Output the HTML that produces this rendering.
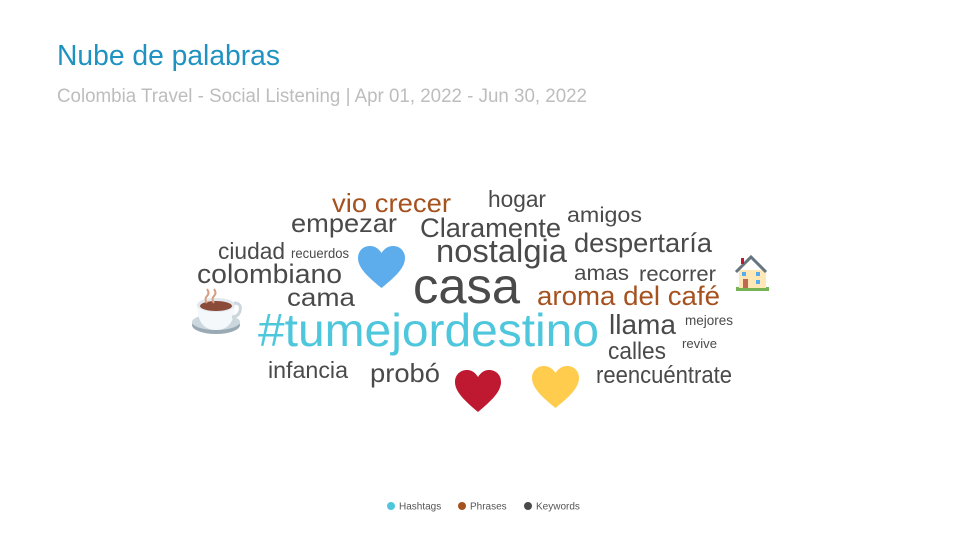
<!DOCTYPE html>
<html><head><meta charset="utf-8"><style>
html,body{margin:0;padding:0;background:#fff;}
body{width:960px;height:540px;overflow:hidden;font-family:"Liberation Sans",sans-serif;}
</style></head><body>
<svg width="960" height="540" viewBox="0 0 960 540">
<text x="57" y="65" font-size="29" fill="#1f92c2" textLength="223" lengthAdjust="spacingAndGlyphs">Nube de palabras</text>
<text x="57" y="102" font-size="19" fill="#bdbdbd" textLength="530" lengthAdjust="spacingAndGlyphs">Colombia Travel - Social Listening | Apr 01, 2022 - Jun 30, 2022</text>
<g id="cloud"></g>
<g transform="translate(358,246)"><path d="M23.5 42 C10 31 0 22 0 12 C0 5 5 0 12 0 C17 0 21 3 23.5 7 C26 3 30 0 35 0 C42 0 47 5 47 12 C47 22 37 31 23.5 42Z" fill="#5dadec"/></g>
<g transform="translate(455,370)"><path d="M23 42 C10 31 0 22 0 12 C0 5 5 0 12 0 C17 0 20.5 3 23 7 C25.5 3 29 0 34 0 C41 0 46 5 46 12 C46 22 36 31 23 42Z" fill="#be1931"/></g>
<g transform="translate(532,366)"><path d="M23.5 42 C10 31 0 22 0 12 C0 5 5 0 12 0 C17 0 21 3 23.5 7 C26 3 30 0 35 0 C42 0 47 5 47 12 C47 22 37 31 23.5 42Z" fill="#ffcc4d"/></g>
<g>
<ellipse cx="216" cy="325" rx="24" ry="9" fill="#99aab5"/>
<ellipse cx="216" cy="322" rx="24" ry="8" fill="#ccd6dd"/>
<path d="M197 304 Q197 330 216 330 Q235 330 235 304Z" fill="#f5f8fa"/>
<ellipse cx="216" cy="305" rx="19" ry="7" fill="#e1e8ed"/>
<ellipse cx="216" cy="306" rx="16" ry="5" fill="#8a4b38"/>
<path d="M234 303 q8 0 6 8 q-2 6 -8 6" fill="none" stroke="#ccd6dd" stroke-width="3"/>
<path d="M207 303 q-3 -4 0 -7 q3 -3 0 -7 M214 303 q-3 -4 0 -7 q3 -3 0 -7" fill="none" stroke="#d99e82" stroke-width="2"/>
</g>
<g>
<rect x="736" y="287" width="33" height="4" fill="#77b255"/>
<rect x="739" y="270" width="27" height="18" fill="#ffe8b6"/>
<path d="M736 272 L751 257 L766 272" fill="none" stroke="#66757f" stroke-width="3"/>
<rect x="741" y="258" width="3" height="6" fill="#be1931"/>
<rect x="743" y="279" width="5" height="9" fill="#c1694f"/>
<rect x="742" y="272" width="4" height="4" fill="#55acee"/>
<rect x="756" y="272" width="4" height="4" fill="#55acee"/>
<rect x="756" y="280" width="4" height="4" fill="#55acee"/>
</g>
<g>
<g><circle cx="391" cy="506" r="4" fill="#4ec7dd"/><text x="399" y="509.5" font-size="10" fill="#555">Hashtags</text></g>
<g><circle cx="462" cy="506" r="4" fill="#a5521f"/><text x="470" y="509.5" font-size="10" fill="#555">Phrases</text></g>
<g><circle cx="528" cy="506" r="4" fill="#4a4a4a"/><text x="536" y="509.5" font-size="10" fill="#555">Keywords</text></g>
</g>
</svg>
<script>
const words = ["vio crecer","hogar","empezar","Claramente","amigos","ciudad","recuerdos","nostalgia","despertaría","colombiano","amas","recorrer","casa","cama","aroma del café","#tumejordestino","llama","mejores","calles","revive","infancia","probó","reencuéntrate"];
const weights = [24,21,24,25,20,21,13,30,25,25,20,20,46,23,25,43,26,13,22,12,21,24,22];
const categories = ["Phrases","Keywords","Keywords","Keywords","Keywords","Keywords","Keywords","Keywords","Keywords","Keywords","Keywords","Keywords","Keywords","Keywords","Phrases","Hashtags","Keywords","Keywords","Keywords","Keywords","Keywords","Keywords","Keywords"];
const colorMap = {Hashtags:"#4ec7dd",Phrases:"#a5521f",Keywords:"#4a4a4a"};
// layout (x, baseline, width) — placement only
const layout = [[332,212,119],[488,207,58],[291,232,106],[420,237,141],[567,222,75],[218,259,67],[291,258,58],[436,262,131],[574,252,138],[197,283,145],[574,280,55],[639,281,77],[413,303,107],[287,306,68],[537,305,183],[258,346,341],[609,334,67],[685,325,48],[608,359,58],[682,348,35],[268,378,80],[370,382,70],[596,383,136]];
const NS="http://www.w3.org/2000/svg";
const g=document.getElementById('cloud');
words.forEach((w,i)=>{
  const t=document.createElementNS(NS,'text');
  const L=layout[i];
  t.setAttribute('x',L[0]);
  t.setAttribute('y',L[1]);
  t.setAttribute('font-size',weights[i]*1.08);
  t.setAttribute('fill',colorMap[categories[i]]);
  t.setAttribute('textLength',L[2]);
  t.setAttribute('lengthAdjust','spacingAndGlyphs');
  t.textContent=w;
  
  
  g.appendChild(t);
});
</script>
</body></html>
